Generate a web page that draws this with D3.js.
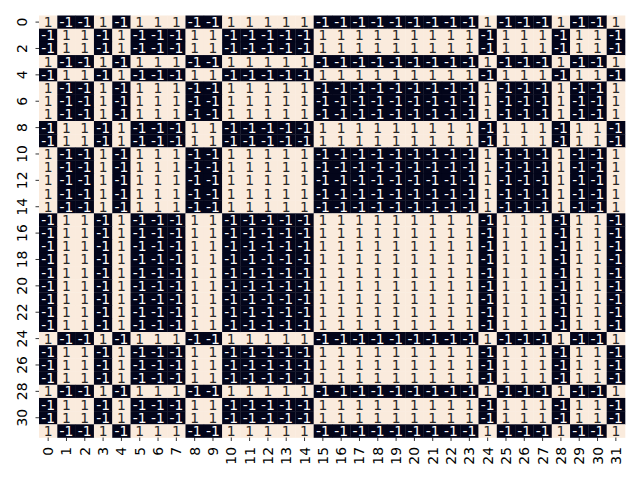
<!DOCTYPE html>
<html><head><meta charset="utf-8">
<script src="https://cdn.jsdelivr.net/npm/d3@7"></script>
<style>html,body{margin:0;padding:0;background:#fff;}svg{display:block;}</style>
</head><body>
<svg id="chart" width="640" height="480"></svg>
<script>
const rowLabels = d3.range(32);
const colLabels = d3.range(32);
const yTickLabels = [0,2,4,6,8,10,12,14,16,18,20,22,24,26,28,30];
const xTickLabels = d3.range(32);
const matrix = [
[ 1,-1,-1, 1,-1, 1, 1, 1,-1,-1, 1, 1, 1, 1, 1,-1,-1,-1,-1,-1,-1,-1,-1,-1, 1,-1,-1,-1, 1,-1,-1, 1],
[-1, 1, 1,-1, 1,-1,-1,-1, 1, 1,-1,-1,-1,-1,-1, 1, 1, 1, 1, 1, 1, 1, 1, 1,-1, 1, 1, 1,-1, 1, 1,-1],
[-1, 1, 1,-1, 1,-1,-1,-1, 1, 1,-1,-1,-1,-1,-1, 1, 1, 1, 1, 1, 1, 1, 1, 1,-1, 1, 1, 1,-1, 1, 1,-1],
[ 1,-1,-1, 1,-1, 1, 1, 1,-1,-1, 1, 1, 1, 1, 1,-1,-1,-1,-1,-1,-1,-1,-1,-1, 1,-1,-1,-1, 1,-1,-1, 1],
[-1, 1, 1,-1, 1,-1,-1,-1, 1, 1,-1,-1,-1,-1,-1, 1, 1, 1, 1, 1, 1, 1, 1, 1,-1, 1, 1, 1,-1, 1, 1,-1],
[ 1,-1,-1, 1,-1, 1, 1, 1,-1,-1, 1, 1, 1, 1, 1,-1,-1,-1,-1,-1,-1,-1,-1,-1, 1,-1,-1,-1, 1,-1,-1, 1],
[ 1,-1,-1, 1,-1, 1, 1, 1,-1,-1, 1, 1, 1, 1, 1,-1,-1,-1,-1,-1,-1,-1,-1,-1, 1,-1,-1,-1, 1,-1,-1, 1],
[ 1,-1,-1, 1,-1, 1, 1, 1,-1,-1, 1, 1, 1, 1, 1,-1,-1,-1,-1,-1,-1,-1,-1,-1, 1,-1,-1,-1, 1,-1,-1, 1],
[-1, 1, 1,-1, 1,-1,-1,-1, 1, 1,-1,-1,-1,-1,-1, 1, 1, 1, 1, 1, 1, 1, 1, 1,-1, 1, 1, 1,-1, 1, 1,-1],
[-1, 1, 1,-1, 1,-1,-1,-1, 1, 1,-1,-1,-1,-1,-1, 1, 1, 1, 1, 1, 1, 1, 1, 1,-1, 1, 1, 1,-1, 1, 1,-1],
[ 1,-1,-1, 1,-1, 1, 1, 1,-1,-1, 1, 1, 1, 1, 1,-1,-1,-1,-1,-1,-1,-1,-1,-1, 1,-1,-1,-1, 1,-1,-1, 1],
[ 1,-1,-1, 1,-1, 1, 1, 1,-1,-1, 1, 1, 1, 1, 1,-1,-1,-1,-1,-1,-1,-1,-1,-1, 1,-1,-1,-1, 1,-1,-1, 1],
[ 1,-1,-1, 1,-1, 1, 1, 1,-1,-1, 1, 1, 1, 1, 1,-1,-1,-1,-1,-1,-1,-1,-1,-1, 1,-1,-1,-1, 1,-1,-1, 1],
[ 1,-1,-1, 1,-1, 1, 1, 1,-1,-1, 1, 1, 1, 1, 1,-1,-1,-1,-1,-1,-1,-1,-1,-1, 1,-1,-1,-1, 1,-1,-1, 1],
[ 1,-1,-1, 1,-1, 1, 1, 1,-1,-1, 1, 1, 1, 1, 1,-1,-1,-1,-1,-1,-1,-1,-1,-1, 1,-1,-1,-1, 1,-1,-1, 1],
[-1, 1, 1,-1, 1,-1,-1,-1, 1, 1,-1,-1,-1,-1,-1, 1, 1, 1, 1, 1, 1, 1, 1, 1,-1, 1, 1, 1,-1, 1, 1,-1],
[-1, 1, 1,-1, 1,-1,-1,-1, 1, 1,-1,-1,-1,-1,-1, 1, 1, 1, 1, 1, 1, 1, 1, 1,-1, 1, 1, 1,-1, 1, 1,-1],
[-1, 1, 1,-1, 1,-1,-1,-1, 1, 1,-1,-1,-1,-1,-1, 1, 1, 1, 1, 1, 1, 1, 1, 1,-1, 1, 1, 1,-1, 1, 1,-1],
[-1, 1, 1,-1, 1,-1,-1,-1, 1, 1,-1,-1,-1,-1,-1, 1, 1, 1, 1, 1, 1, 1, 1, 1,-1, 1, 1, 1,-1, 1, 1,-1],
[-1, 1, 1,-1, 1,-1,-1,-1, 1, 1,-1,-1,-1,-1,-1, 1, 1, 1, 1, 1, 1, 1, 1, 1,-1, 1, 1, 1,-1, 1, 1,-1],
[-1, 1, 1,-1, 1,-1,-1,-1, 1, 1,-1,-1,-1,-1,-1, 1, 1, 1, 1, 1, 1, 1, 1, 1,-1, 1, 1, 1,-1, 1, 1,-1],
[-1, 1, 1,-1, 1,-1,-1,-1, 1, 1,-1,-1,-1,-1,-1, 1, 1, 1, 1, 1, 1, 1, 1, 1,-1, 1, 1, 1,-1, 1, 1,-1],
[-1, 1, 1,-1, 1,-1,-1,-1, 1, 1,-1,-1,-1,-1,-1, 1, 1, 1, 1, 1, 1, 1, 1, 1,-1, 1, 1, 1,-1, 1, 1,-1],
[-1, 1, 1,-1, 1,-1,-1,-1, 1, 1,-1,-1,-1,-1,-1, 1, 1, 1, 1, 1, 1, 1, 1, 1,-1, 1, 1, 1,-1, 1, 1,-1],
[ 1,-1,-1, 1,-1, 1, 1, 1,-1,-1, 1, 1, 1, 1, 1,-1,-1,-1,-1,-1,-1,-1,-1,-1, 1,-1,-1,-1, 1,-1,-1, 1],
[-1, 1, 1,-1, 1,-1,-1,-1, 1, 1,-1,-1,-1,-1,-1, 1, 1, 1, 1, 1, 1, 1, 1, 1,-1, 1, 1, 1,-1, 1, 1,-1],
[-1, 1, 1,-1, 1,-1,-1,-1, 1, 1,-1,-1,-1,-1,-1, 1, 1, 1, 1, 1, 1, 1, 1, 1,-1, 1, 1, 1,-1, 1, 1,-1],
[-1, 1, 1,-1, 1,-1,-1,-1, 1, 1,-1,-1,-1,-1,-1, 1, 1, 1, 1, 1, 1, 1, 1, 1,-1, 1, 1, 1,-1, 1, 1,-1],
[ 1,-1,-1, 1,-1, 1, 1, 1,-1,-1, 1, 1, 1, 1, 1,-1,-1,-1,-1,-1,-1,-1,-1,-1, 1,-1,-1,-1, 1,-1,-1, 1],
[-1, 1, 1,-1, 1,-1,-1,-1, 1, 1,-1,-1,-1,-1,-1, 1, 1, 1, 1, 1, 1, 1, 1, 1,-1, 1, 1, 1,-1, 1, 1,-1],
[-1, 1, 1,-1, 1,-1,-1,-1, 1, 1,-1,-1,-1,-1,-1, 1, 1, 1, 1, 1, 1, 1, 1, 1,-1, 1, 1, 1,-1, 1, 1,-1],
[ 1,-1,-1, 1,-1, 1, 1, 1,-1,-1, 1, 1, 1, 1, 1,-1,-1,-1,-1,-1,-1,-1,-1,-1, 1,-1,-1,-1, 1,-1,-1, 1]
];

const svg = d3.select("#chart");
const mLeft = 39, mRight = 625, mTop = 15.5, mBottom = 437.5;
const x = d3.scaleBand().domain(colLabels).range([mLeft, mRight]).padding(0);
const y = d3.scaleBand().domain(rowLabels).range([mTop, mBottom]).padding(0);
const color = d3.scaleOrdinal().domain([-1, 1]).range(["#03051a", "#faebdd"]);
const textColor = d3.scaleOrdinal().domain([-1, 1]).range(["#ffffff", "#262626"]);

const cells = [];
matrix.forEach((row, i) => row.forEach((v, j) => cells.push({i, j, v})));

svg.append("g").selectAll("rect").data(cells).join("rect")
  .attr("x", d => x(d.j)).attr("y", d => y(d.i))
  .attr("width", x.bandwidth() + 0.3).attr("height", y.bandwidth() + 0.3)
  .attr("fill", d => color(d.v));

svg.append("g").selectAll("text").data(cells).join("text")
  .attr("x", d => x(d.j) + x.bandwidth() / 2)
  .attr("y", d => y(d.i) + y.bandwidth() / 2)
  .attr("dy", "0.36em")
  .attr("text-anchor", "middle")
  .attr("font-family", "DejaVu Sans")
  .attr("font-size", "13.9px")
  .attr("fill", d => textColor(d.v))
  .text(d => String(d.v));

// x axis
const xAxis = d3.axisBottom(x).tickValues(xTickLabels).tickSize(3.5).tickPadding(0).tickSizeOuter(0);
const gx = svg.append("g").attr("transform", `translate(0,${mBottom})`).call(xAxis);
gx.select(".domain").remove();
gx.selectAll(".tick line").attr("stroke", "#000").attr("stroke-width", 0.8);
gx.selectAll(".tick text")
  .attr("font-family", "DejaVu Sans").attr("font-size", "13.9px").attr("fill", "#000")
  .attr("text-anchor", "end")
  .attr("transform", "translate(0,9.5) rotate(-90)")
  .attr("x", 0).attr("y", 0).attr("dy", "0.36em");

// y axis
const yAxis = d3.axisLeft(y).tickValues(yTickLabels).tickSize(3.5).tickPadding(0).tickSizeOuter(0);
const gy = svg.append("g").attr("transform", `translate(${mLeft},0)`).call(yAxis);
gy.select(".domain").remove();
gy.selectAll(".tick line").attr("stroke", "#000").attr("stroke-width", 0.8);
gy.selectAll(".tick text")
  .attr("font-family", "DejaVu Sans").attr("font-size", "13.9px").attr("fill", "#000")
  .attr("text-anchor", "middle")
  .attr("transform", "translate(-12.5,0) rotate(-90)")
  .attr("x", 0).attr("y", 0).attr("dy", "0");
</script>
</body></html>
